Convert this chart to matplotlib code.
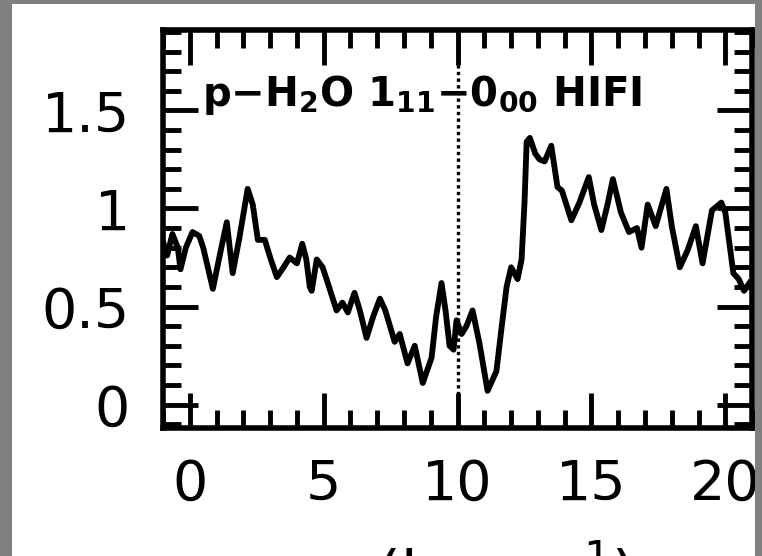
import numpy as np
import matplotlib.pyplot as plt
from matplotlib.patches import Rectangle
from matplotlib.ticker import MultipleLocator

# p-H2O 1_11-0_00 HIFI spectrum
velocity = [-1.0, -0.85, -0.65, -0.45, -0.35, -0.15, 0.1, 0.35, 0.5, 0.86,
            1.1, 1.38, 1.6, 1.85, 2.16, 2.35, 2.54, 2.8, 3.0, 3.25,
            3.5, 3.73, 4.0, 4.2, 4.35, 4.48, 4.55, 4.74, 4.96, 5.2,
            5.48, 5.7, 5.9, 6.15, 6.35, 6.6, 6.85, 7.1, 7.3, 7.65,
            7.84, 8.13, 8.4, 8.7, 9.03, 9.2, 9.4, 9.55, 9.7, 9.85,
            9.96, 10.15, 10.33, 10.56, 10.82, 11.12, 11.45, 11.65, 11.83, 12.0,
            12.24, 12.39, 12.5, 12.58, 12.7, 12.9, 13.06, 13.25, 13.5, 13.73,
            13.9, 14.25, 14.55, 14.9, 15.1, 15.37, 15.6, 15.8, 16.1, 16.4,
            16.7, 16.87, 17.1, 17.4, 17.8, 18.0, 18.3, 18.6, 18.9, 19.15,
            19.5, 19.85, 20.0, 20.3, 20.5, 20.7, 20.9]
intensity = [0.83, 0.76, 0.87, 0.80, 0.69, 0.80, 0.88, 0.86, 0.80, 0.59,
             0.75, 0.93, 0.67, 0.85, 1.10, 1.02, 0.84, 0.84, 0.75, 0.65,
             0.70, 0.75, 0.72, 0.82, 0.74, 0.60, 0.58, 0.74, 0.70, 0.60,
             0.48, 0.52, 0.47, 0.57, 0.48, 0.34, 0.45, 0.54, 0.48, 0.32,
             0.36, 0.21, 0.30, 0.11, 0.24, 0.45, 0.62, 0.48, 0.30, 0.28,
             0.43, 0.36, 0.40, 0.48, 0.31, 0.07, 0.17, 0.40, 0.60, 0.70,
             0.64, 0.74, 1.03, 1.34, 1.36, 1.28, 1.25, 1.24, 1.32, 1.11,
             1.09, 0.94, 1.03, 1.16, 1.02, 0.89, 1.02, 1.15, 0.98, 0.88,
             0.90, 0.80, 1.02, 0.91, 1.10, 0.91, 0.70, 0.79, 0.91, 0.72,
             0.99, 1.03, 0.98, 0.67, 0.64, 0.58, 0.62]
v_sys = 10.0
x_ticks = [0, 5, 10, 15, 20]
y_ticks = [0, 0.5, 1, 1.5]
y_ticklabels = ['0', '0.5', '1', '1.5']

plt.rcParams['font.family'] = ['DejaVu Sans']
plt.rcParams['mathtext.fontset'] = 'dejavusans'

fig = plt.figure(figsize=(7.62, 5.56), dpi=100, facecolor='white')
ax = fig.add_axes([0.214, 0.230, 0.773, 0.716])

ax.plot(velocity, intensity, color='black', lw=4.2, solid_joinstyle='round')
ax.axvline(v_sys, color='black', lw=2.4, linestyle=(0, (1, 1)))

ax.set_xlim(-1, 21)
ax.set_ylim(-0.12, 1.91)
ax.set_xticks(x_ticks)
ax.set_yticks(y_ticks)
ax.set_yticklabels(y_ticklabels)
ax.xaxis.set_minor_locator(MultipleLocator(1))
ax.yaxis.set_minor_locator(MultipleLocator(0.1))
ax.tick_params(which='both', direction='in', top=True, right=True,
               width=3.5, labelsize=40)
ax.tick_params(axis='x', pad=21)
ax.tick_params(axis='y', pad=24)
ax.tick_params(which='major', length=25)
ax.tick_params(which='minor', length=13)
for sp in ax.spines.values():
    sp.set_linewidth(4)

ax.text(0.45, 1.525,
        'p\u2212H$_\\mathbf{2}$O 1$_\\mathbf{11}$\u22120$_\\mathbf{00}$ HIFI',
        fontsize=29, fontweight='bold', va='baseline', ha='left')

ax.set_xlabel(r'v$_{\rm LSR}$ (km s$^{-1}$)', fontsize=44)
ax.xaxis.set_label_coords(0.462, -0.278)

# grey frame round the panel, drawn over the axes
grey = '#808080'
for x0, y0, w, h in [(0, 0, 12 / 762, 1), (755 / 762, 0, 7 / 762, 1),
                     (0, 1 - 4 / 556, 1, 4 / 556)]:
    fig.patches.append(Rectangle((x0, y0), w, h, transform=fig.transFigure,
                                 facecolor=grey, edgecolor='none', zorder=10))

fig.savefig('out.png', dpi=100)
